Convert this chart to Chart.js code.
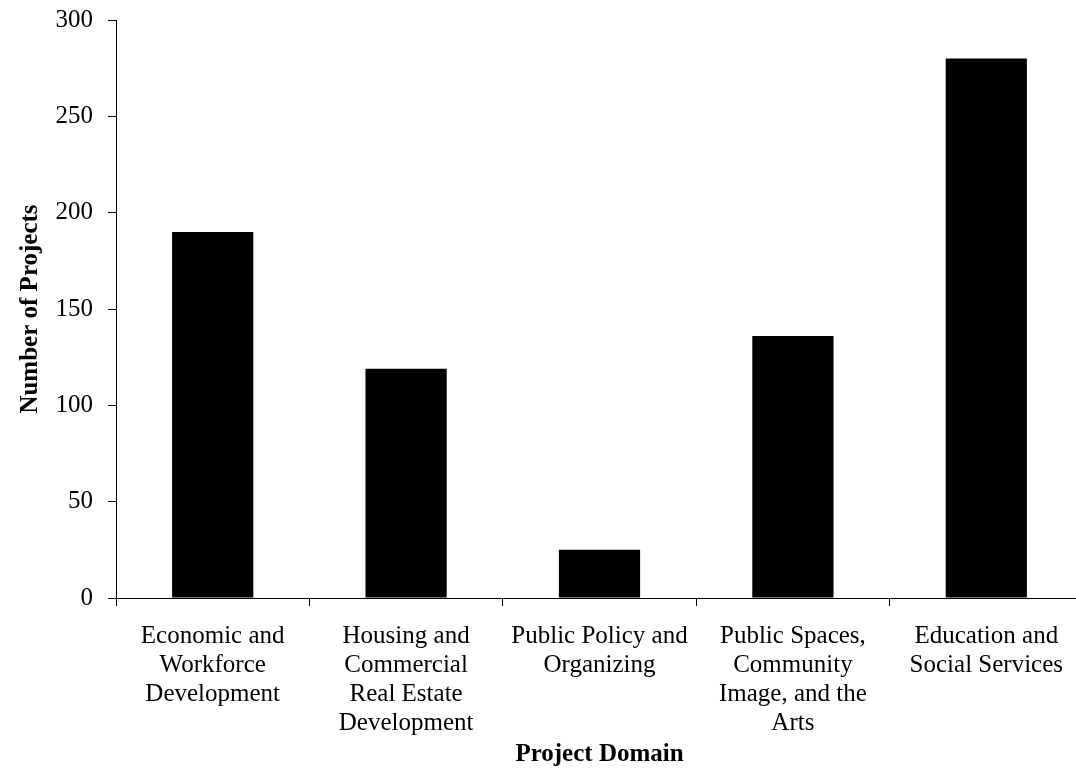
<!DOCTYPE html>
<html>
<head>
<meta charset="utf-8">
<script src="https://cdn.jsdelivr.net/npm/chart.js@4.4.1/dist/chart.umd.min.js"></script>
<style>
  html, body { margin: 0; padding: 0; background: #fff; overflow: hidden; }
  #wrap { width: 1084px; height: 772px; }
</style>
</head>
<body>
<div id="wrap"><canvas id="chart1"></canvas></div>
<script>
const domains = [
    ['Economic and', 'Workforce', 'Development'],
    ['Housing and', 'Commercial', 'Real Estate', 'Development'],
    ['Public Policy and', 'Organizing'],
    ['Public Spaces,', 'Community', 'Image, and the', 'Arts'],
    ['Education and', 'Social Services']
];
const projectCounts = [190, 119, 25, 136, 280];
const yTicks = [0, 50, 100, 150, 200, 250, 300];

const serif = '"Liberation Serif", "Times New Roman", serif';

const ctx = document.getElementById('chart1').getContext('2d');
const chart1 = new Chart(ctx, {
    type: 'bar',
    data: {
        labels: domains,
        datasets: [
            {
                label: 'Number of Projects',
                data: projectCounts,
                backgroundColor: '#000000',
                barPercentage: 0.42,
                categoryPercentage: 1.0
            }
        ]
    },
    options: {
        responsive: true,
        maintainAspectRatio: false,
        animation: false,
        layout: {
            padding: { top: 20, right: 1, bottom: 0, left: 0 }
        },
        scales: {
            x: {
                // labels fit inside, don't let the tick padding push the edges in
                afterFit: (axis) => {
                    axis.paddingLeft = 0;
                    axis.paddingRight = 0;
                    axis.height = 174;
                },
                grid: {
                    display: true,
                    drawOnChartArea: false,
                    drawTicks: true,
                    tickLength: 8,
                    color: '#000'
                },
                border: { color: '#000', width: 1 },
                ticks: {
                    color: '#000',
                    padding: 16,
                    maxRotation: 0,
                    autoSkip: false,
                    font: { family: serif, size: 25, lineHeight: 1.16 }
                },
                title: {
                    display: true,
                    text: 'Project Domain',
                    color: '#000',
                    padding: { top: 4, bottom: 2 },
                    font: { family: serif, size: 25, weight: 'bold', lineHeight: 1.2 }
                }
            },
            y: {
                min: 0,
                max: 300,
                afterBuildTicks: (axis) => {
                    axis.ticks = yTicks.map(v => ({ value: v }));
                },
                afterFit: (axis) => {
                    axis.paddingTop = 0;
                    axis.paddingBottom = 0;
                    axis.width = 116;
                },
                grid: {
                    display: true,
                    drawOnChartArea: false,
                    drawTicks: true,
                    tickLength: 8,
                    color: '#000'
                },
                border: { color: '#000', width: 1 },
                ticks: {
                    color: '#000',
                    padding: 15,
                    font: { family: serif, size: 25, lineHeight: 1.2 }
                },
                title: {
                    display: true,
                    text: 'Number of Projects',
                    color: '#000',
                    padding: { top: 16, bottom: 11 },
                    font: { family: serif, size: 25, weight: 'bold', lineHeight: 1.2 }
                }
            }
        },
        plugins: {
            legend: { display: false },
            tooltip: { enabled: false }
        }
    }
});
</script>
</body>
</html>
